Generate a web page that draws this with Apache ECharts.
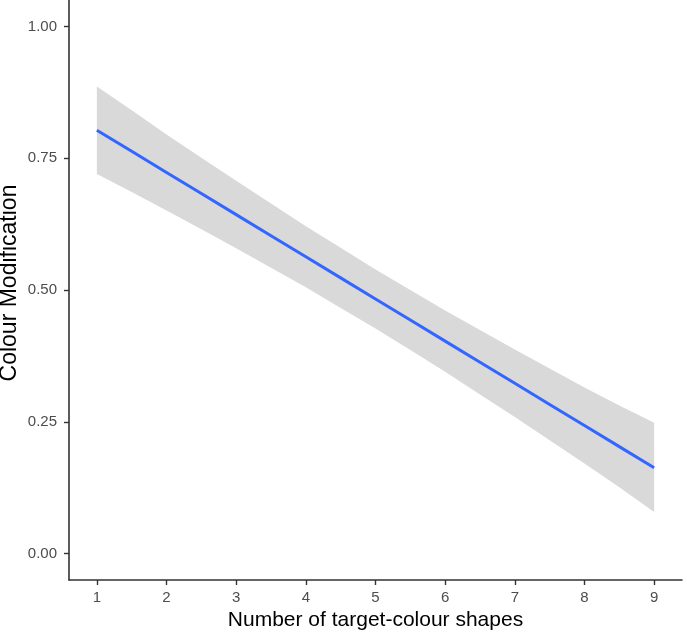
<!DOCTYPE html>
<html>
<head>
<meta charset="utf-8">
<script src="https://cdn.jsdelivr.net/npm/echarts@6/dist/echarts.min.js"></script>
<style>
html,body{margin:0;padding:0;background:#fff;}
#chart{width:685px;height:633px;}
</style>
</head>
<body>
<div id="chart"></div>
<script>
// Data (fitted line + confidence band)
var xValues   = [1, 1.5, 2, 2.5, 3, 3.5, 4, 4.5, 5, 5.5, 6, 6.5, 7, 7.5, 8, 8.5, 9];
var fitValues = [0.803, 0.763, 0.723, 0.683, 0.643, 0.603, 0.563, 0.523, 0.483, 0.443, 0.403, 0.363, 0.323, 0.283, 0.243, 0.203, 0.163];
var upperBand = [0.886, 0.841, 0.795, 0.751, 0.707, 0.664, 0.621, 0.580, 0.539, 0.500, 0.461, 0.424, 0.387, 0.351, 0.315, 0.281, 0.248];
var lowerBand = [0.720, 0.686, 0.651, 0.615, 0.579, 0.542, 0.505, 0.466, 0.427, 0.386, 0.345, 0.302, 0.259, 0.215, 0.171, 0.126, 0.079];
var xTicks = [1, 2, 3, 4, 5, 6, 7, 8, 9];
var yTicks = [0, 0.25, 0.5, 0.75, 1];
var xTitle = 'Number of target-colour shapes';
var yTitle = 'Colour Modification';

var font = 'Liberation Sans, Arial, Helvetica, sans-serif';
var bandData = xValues.map(function (x, i) { return [x, lowerBand[i], upperBand[i]]; });
var fitData = xValues.map(function (x, i) { return [x, fitValues[i]]; });

function renderBand(params, api) {
  if (params.dataIndex !== 0) return null;
  var top = [], bottom = [];
  for (var i = 0; i < bandData.length; i++) {
    top.push(api.coord([bandData[i][0], bandData[i][2]]));
    bottom.push(api.coord([bandData[i][0], bandData[i][1]]));
  }
  var pts = top.concat(bottom.reverse());
  return {type: 'polygon', shape: {points: pts}, style: {fill: '#d9d9d9', stroke: null}, silent: true};
}

var chart = echarts.init(document.getElementById('chart'), null, {renderer: 'canvas'});
chart.setOption({
  backgroundColor: '#ffffff',
  animation: false,
  grid: {left: 69, right: 3, top: 0, bottom: 53, containLabel: false, outerBoundsMode: 'none'},
  graphic: [{
    type: 'text', x: 10, y: 283, rotation: Math.PI / 2, silent: true,
    style: {text: yTitle, fontFamily: font, fontSize: 23, fill: '#000',
            textAlign: 'center', textVerticalAlign: 'middle'}
  }],
  xAxis: {
    type: 'value', min: 0.6, max: 9.4,
    name: xTitle, nameLocation: 'middle', nameGap: 24,
    nameTextStyle: {fontFamily: font, fontSize: 21, color: '#000'},
    axisLine: {show: true, onZero: false, lineStyle: {color: '#333', width: 1.6}},
    axisTick: {show: true, length: 5, customValues: xTicks, lineStyle: {color: '#333', width: 1.4}},
    axisLabel: {customValues: xTicks, margin: 10, fontFamily: font, fontSize: 15, color: '#4d4d4d'},
    splitLine: {show: false}
  },
  yAxis: {
    type: 'value', min: -0.05, max: 1.05,
    axisLine: {show: true, onZero: false, lineStyle: {color: '#333', width: 1.6}},
    axisTick: {show: true, length: 5, customValues: yTicks, lineStyle: {color: '#333', width: 1.4}},
    axisLabel: {customValues: yTicks, margin: 12, fontFamily: font, fontSize: 15, color: '#4d4d4d',
      formatter: function (v) { return v.toFixed(2); }},
    splitLine: {show: false}
  },
  series: [
    {type: 'custom', data: bandData, renderItem: renderBand, silent: true, z: 1,
     encode: {x: 0, y: [1, 2]}},
    {type: 'line', data: fitData, symbol: 'none', silent: true, z: 2,
     lineStyle: {color: '#3366ff', width: 3}}
  ]
});
</script>
</body>
</html>
